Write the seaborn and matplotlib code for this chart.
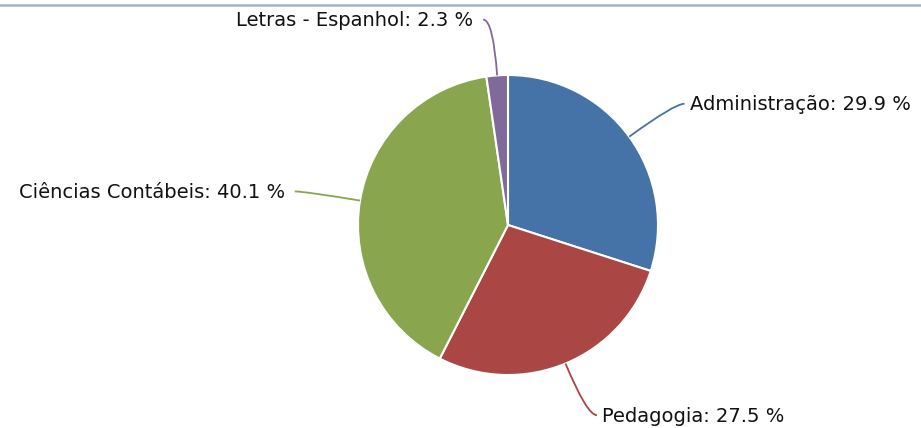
import numpy as np
import matplotlib
matplotlib.use('Agg')
import matplotlib.pyplot as plt
from matplotlib.path import Path
from matplotlib.patches import PathPatch
import seaborn as sns

categories = ['Administração', 'Pedagogia', 'Ciências Contábeis', 'Letras - Espanhol']
shares = [29.9, 27.5, 40.1, 2.3]
slice_colors = ['#4572A7', '#AA4643', '#89A54E', '#80699B']

sns.set_theme(style='white')
plt.rcParams['font.family'] = ['DejaVu Sans']

W, H = 921, 428
fig = plt.figure(figsize=(W / 100, H / 100), dpi=100)
ax = fig.add_axes([0, 0, 1, 1])

cx, cy, r = 508, 203, 150
wedges, _ = ax.pie(shares, colors=sns.color_palette(slice_colors), startangle=90,
                   counterclock=False, center=(cx, cy), radius=r,
                   wedgeprops=dict(edgecolor='white', linewidth=1.5))

# data labels with curved connectors
for w, cat, val, col in zip(wedges, categories, shares, slice_colors):
    mid = np.deg2rad((w.theta1 + w.theta2) / 2)
    d = np.array([np.cos(mid), np.sin(mid)])
    p0 = np.array([cx, cy]) + r * d
    p1 = np.array([cx, cy]) + (r + 56) * d
    side = 1 if d[0] >= 0 else -1
    p2 = p1 + np.array([side * 10, 0])
    path = Path([p0, p1, p2], [Path.MOVETO, Path.CURVE3, Path.CURVE3])
    ax.add_patch(PathPatch(path, fill=False, edgecolor=col, lw=1.3))
    ax.text(p2[0] + side * (5 if side > 0 else 10), p2[1] - 1, f'{cat}: {val} %',
            fontsize=14, color='#111111',
            ha='left' if side > 0 else 'right', va='center')

ax.axhline(H - 5, color='#A3B3CB', lw=1.8)

ax.set_xlim(0, W)
ax.set_ylim(0, H)
ax.set_aspect('equal')
ax.axis('off')

fig.savefig('out.png', dpi=100)
